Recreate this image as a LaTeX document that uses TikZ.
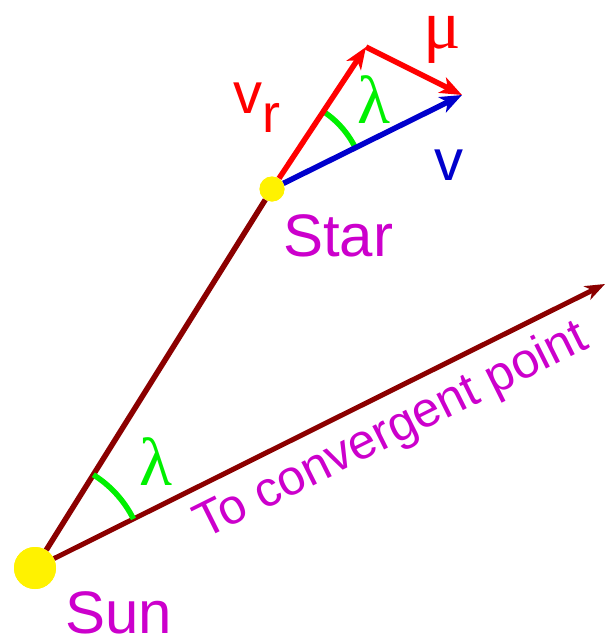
\documentclass[tikz,border=0pt]{standalone}
\usepackage{fontspec}
\setmainfont{Liberation Sans}
\newfontfamily\greekfont{Liberation Serif}
\usetikzlibrary{arrows.meta,angles}
\definecolor{maroon}{RGB}{139,0,0}
\definecolor{lblmag}{RGB}{204,0,204}
\definecolor{vblue}{RGB}{0,0,204}
\definecolor{lgreen}{RGB}{0,240,0}
\begin{document}
\begin{tikzpicture}[x=1pt,y=1pt,
  body/.style={circle,fill=yellow,inner sep=0pt},
  ray/.style={draw=maroon,line width=5.5pt},
  vec/.style={line width=5.5pt,-{Stealth[length=22pt,width=17pt,inset=6pt]}},
  lbl/.style={inner sep=0pt,anchor=base west},
  arcmark/.style={draw=lgreen,line width=5.5pt}]
\useasboundingbox (0,0) rectangle (605,-635);
\node[body,minimum size=42pt] (sun) at (35,-568) {};
\node[body,minimum size=25pt] (star) at (272,-189) {};
\coordinate (conv) at (605,-284);
\coordinate (vr) at (366,-47);
\coordinate (vt) at (462,-95);
% rays
\draw[ray] (sun) -- (star);
\draw[ray,line width=5pt,maroon,-{Stealth[length=20pt,width=15pt,inset=6pt]}] (sun) -- (conv);
% angle marks
\pic[arcmark,angle radius=110pt] {angle=conv--sun--star};
\pic[arcmark,angle radius=93pt] {angle=vt--star--vr};
% velocity vectors
\draw[vec,red] (star) -- (vr);
\draw[vec,red] (vr) -- (vt);
\draw[vec,vblue] (star) -- (vt);
% redraw bodies on top
\node[body,minimum size=42pt] at (sun) {};
\node[body,minimum size=25pt] at (star) {};
% labels
\node[lbl,text=lblmag,font=\fontsize{60}{60}\selectfont] (starlbl) at (283,-256) {Star};
\node[lbl,text=lblmag,font=\fontsize{60}{60}\selectfont] (sunlbl) at (65,-633) {Sun};
\node[lbl,text=lblmag,font=\fontsize{49.5}{49.5}\selectfont,rotate=26.5] (convlbl) at (204,-540) {To convergent point};
\node[lbl,text=red,font=\fontsize{58}{58}\selectfont] (vrlbl) at (233,-113) {v\raisebox{-19pt}{\fontsize{54}{54}\selectfont r}};
\node[lbl,text=red,font=\fontsize{70}{70}\selectfont\greekfont] (mulbl) at (423,-48) {μ};
\node[lbl,text=vblue,font=\fontsize{58}{58}\selectfont] (vlbl) at (434,-180) {v};
\node[lbl,text=lgreen,font=\fontsize{68}{68}\selectfont\greekfont] (lam1) at (357,-123) {λ};
\node[lbl,text=lgreen,font=\fontsize{68}{68}\selectfont\greekfont] (lam2) at (139,-485) {λ};
\end{tikzpicture}
\end{document}
